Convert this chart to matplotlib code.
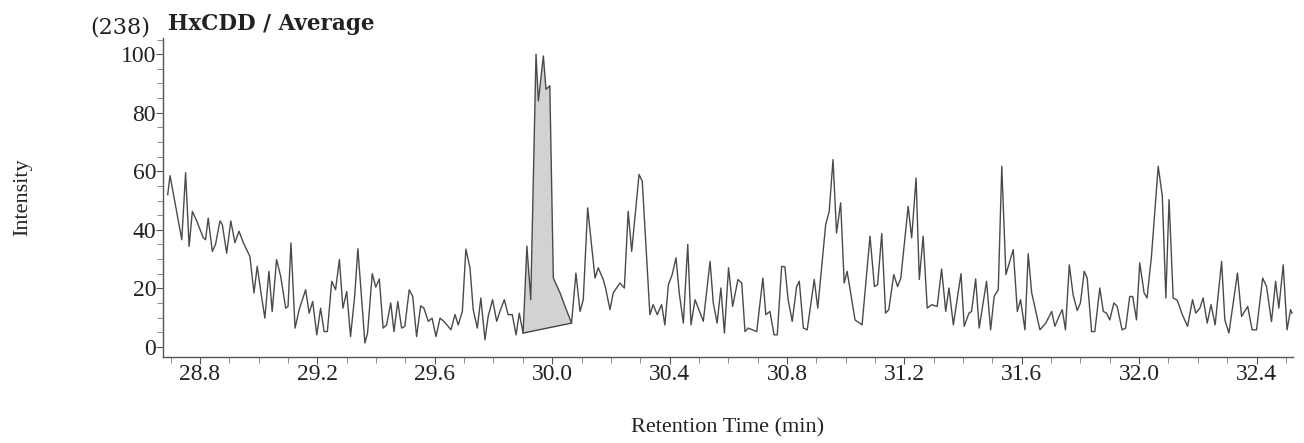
"""
HxCDD chromatogram (average trace)
"""

import matplotlib
matplotlib.use("Agg")
import matplotlib.pyplot as plt
from matplotlib.ticker import MultipleLocator
import numpy as np

# retention time (min) and intensity (%)
time = [
    28.690, 28.698, 28.738, 28.751, 28.763, 28.774, 28.789, 28.811, 28.819, 28.828,
    28.842, 28.853, 28.868, 28.876, 28.891, 28.905, 28.919, 28.933, 28.948, 28.970,
    28.984, 28.995, 29.008, 29.021, 29.035, 29.046, 29.061, 29.075, 29.092, 29.100,
    29.110, 29.124, 29.138, 29.160, 29.172, 29.184, 29.198, 29.211, 29.223, 29.234,
    29.249, 29.262, 29.275, 29.287, 29.300, 29.313, 29.327, 29.338, 29.362, 29.371,
    29.387, 29.399, 29.411, 29.424, 29.436, 29.450, 29.461, 29.474, 29.487, 29.498,
    29.513, 29.525, 29.538, 29.552, 29.563, 29.578, 29.591, 29.604, 29.618, 29.631,
    29.644, 29.655, 29.669, 29.680, 29.694, 29.706, 29.720, 29.731, 29.745, 29.757,
    29.771, 29.782, 29.797, 29.811, 29.824, 29.837, 29.850, 29.864, 29.877, 29.888,
    29.901, 29.914, 29.927, 29.945, 29.953, 29.970, 29.979, 29.992, 30.004, 30.027,
    30.044, 30.066, 30.081, 30.095, 30.106, 30.121, 30.146, 30.157, 30.174, 30.182,
    30.197, 30.208, 30.231, 30.246, 30.259, 30.271, 30.296, 30.307, 30.333, 30.344,
    30.358, 30.373, 30.384, 30.396, 30.409, 30.422, 30.433, 30.447, 30.462, 30.473,
    30.487, 30.515, 30.538, 30.549, 30.562, 30.575, 30.587, 30.601, 30.615, 30.633,
    30.646, 30.657, 30.668, 30.697, 30.718, 30.728, 30.742, 30.756, 30.767, 30.782,
    30.793, 30.804, 30.818, 30.833, 30.842, 30.856, 30.869, 30.893, 30.905, 30.932,
    30.944, 30.957, 30.969, 30.983, 30.995, 31.005, 31.032, 31.056, 31.083, 31.098,
    31.109, 31.123, 31.136, 31.147, 31.164, 31.177, 31.188, 31.213, 31.225, 31.240,
    31.251, 31.264, 31.278, 31.293, 31.312, 31.327, 31.341, 31.352, 31.367, 31.393,
    31.404, 31.420, 31.429, 31.443, 31.455, 31.480, 31.494, 31.506, 31.520, 31.532,
    31.546, 31.571, 31.585, 31.596, 31.611, 31.622, 31.634, 31.662, 31.682, 31.702,
    31.713, 31.727, 31.738, 31.749, 31.762, 31.775, 31.789, 31.800, 31.813, 31.823,
    31.838, 31.849, 31.866, 31.878, 31.889, 31.900, 31.914, 31.925, 31.942, 31.954,
    31.968, 31.978, 31.991, 32.002, 32.017, 32.027, 32.042, 32.065, 32.079, 32.091,
    32.102, 32.116, 32.130, 32.147, 32.165, 32.182, 32.193, 32.207, 32.218, 32.232,
    32.245, 32.259, 32.281, 32.292, 32.306, 32.335, 32.349, 32.370, 32.385, 32.400,
    32.421, 32.434, 32.451, 32.465, 32.476, 32.491, 32.504, 32.516, 32.521,
]

intensity = [
    52.0, 58.5, 36.6, 59.5, 34.3, 46.3, 43.0, 37.3, 36.6, 44.0,
    32.6, 35.0, 43.0, 41.8, 32.0, 43.0, 35.6, 39.5, 35.5, 30.9,
    18.4, 27.5, 18.4, 9.8, 25.8, 12.1, 29.8, 24.1, 13.2, 13.8,
    35.5, 6.4, 12.7, 19.5, 11.5, 15.5, 4.1, 13.2, 5.2, 5.2,
    22.4, 19.5, 29.8, 13.2, 18.9, 3.5, 17.2, 33.5, 1.3, 4.7,
    25.0, 20.4, 23.2, 6.4, 7.5, 15.0, 5.2, 15.5, 6.4, 7.0,
    19.5, 17.2, 3.5, 14.0, 13.2, 8.7, 9.8, 3.5, 9.8, 8.7,
    7.2, 5.8, 11.0, 7.5, 12.1, 33.4, 27.0, 12.7, 6.4, 16.7,
    2.4, 10.4, 16.1, 8.7, 12.7, 16.1, 11.0, 11.0, 4.1, 11.5,
    4.7, 34.4, 16.1, 100.0, 84.0, 99.4, 88.0, 89.2, 23.5, 18.4,
    13.8, 8.1, 25.2, 12.1, 16.1, 47.5, 23.5, 27.0, 23.0, 20.1,
    12.7, 18.4, 21.8, 20.1, 46.3, 32.6, 58.9, 56.6, 11.0, 14.4,
    11.0, 14.4, 7.5, 21.2, 24.7, 30.4, 18.4, 8.1, 35.0, 7.5,
    16.1, 8.7, 29.2, 15.0, 8.1, 20.1, 4.7, 27.0, 13.8, 23.0,
    21.8, 5.2, 6.4, 5.2, 23.5, 11.0, 12.1, 4.1, 4.1, 27.5,
    27.3, 16.1, 8.7, 20.6, 22.4, 6.4, 5.8, 23.0, 13.2, 41.8,
    46.3, 64.0, 38.9, 49.2, 21.8, 25.8, 9.2, 7.5, 37.8, 20.6,
    21.2, 38.7, 11.5, 12.7, 24.7, 20.6, 23.5, 48.0, 37.2, 57.7,
    23.0, 37.8, 13.2, 14.4, 13.8, 26.6, 12.1, 20.1, 7.5, 25.0,
    7.0, 11.5, 12.1, 23.2, 6.4, 22.4, 5.8, 17.2, 19.5, 61.7,
    24.7, 33.2, 12.1, 16.1, 5.8, 31.8, 18.4, 5.8, 8.1, 12.1,
    7.0, 10.4, 12.7, 5.8, 28.0, 17.8, 12.4, 15.0, 25.8, 23.5,
    5.2, 5.2, 20.1, 12.1, 11.5, 9.2, 15.0, 13.8, 5.8, 6.4,
    17.2, 17.2, 9.2, 28.7, 18.4, 16.7, 30.9, 61.7, 51.5, 16.7,
    50.3, 16.7, 15.9, 11.0, 7.0, 16.1, 11.5, 13.2, 16.7, 8.1,
    14.4, 7.5, 29.2, 9.2, 4.7, 25.2, 10.4, 13.8, 5.8, 5.8,
    23.5, 20.6, 8.6, 22.4, 13.2, 28.0, 5.8, 12.7, 11.5,
]

# integrated peak: start and end of the drawn baseline
peak_start = 29.901
peak_end = 30.066

xticks = [28.8, 29.2, 29.6, 30.0, 30.4, 30.8, 31.2, 31.6, 32.0, 32.4]
yticks = [0, 20, 40, 60, 80, 100]

plt.rcParams["font.family"] = ["Liberation Serif", "DejaVu Serif"]

fig = plt.figure(figsize=(13.04, 4.43), dpi=100)
ax = fig.add_axes([0.125, 0.194, 0.8665, 0.72])

t = np.array(time)
y = np.array(intensity)

# shaded peak area between trace and straight baseline
sel = (t >= peak_start) & (t <= peak_end)
px = t[sel]
py = y[sel]
ax.fill(px, py, color="#d2d2d2", lw=0, zorder=1)
ax.plot([px[0], px[-1]], [py[0], py[-1]], color="#444444", lw=1.0, zorder=2)

ax.plot(t, y, color="#4a4a4a", lw=1.0, zorder=3)

ax.set_xlim(28.674, 32.524)
ax.set_ylim(-3.5, 105.5)

ax.set_xticks(xticks)
ax.set_xticklabels([f"{v:.1f}" for v in xticks])
ax.set_yticks(yticks)
ax.xaxis.set_minor_locator(MultipleLocator(0.1))
ax.yaxis.set_minor_locator(MultipleLocator(5))

for side in ["top", "right"]:
    ax.spines[side].set_visible(False)
for side in ["left", "bottom"]:
    ax.spines[side].set_color("#555555")
    ax.spines[side].set_linewidth(1.0)

ax.tick_params(axis="both", which="major", labelsize=17, colors="#555555",
               labelcolor="#222222", length=5, width=0.8, pad=0)
ax.tick_params(axis="both", which="minor", colors="#777777",
               length=4, width=0.6)

ax.set_xlabel("Retention Time (min)", fontsize=16, color="#222222", labelpad=24)
ax.set_ylabel("Intensity", fontsize=16, color="#222222", labelpad=64)

fig.text(0.069, 0.924, "(238)", fontsize=16, color="#222222",
         va="baseline", family=["DejaVu Serif"])
fig.text(0.129, 0.932, "HxCDD / Average", fontsize=15.5, color="#222222",
         fontweight="bold", va="baseline", family=["DejaVu Serif"])

fig.savefig("out.png", dpi=100)
plt.close(fig)
